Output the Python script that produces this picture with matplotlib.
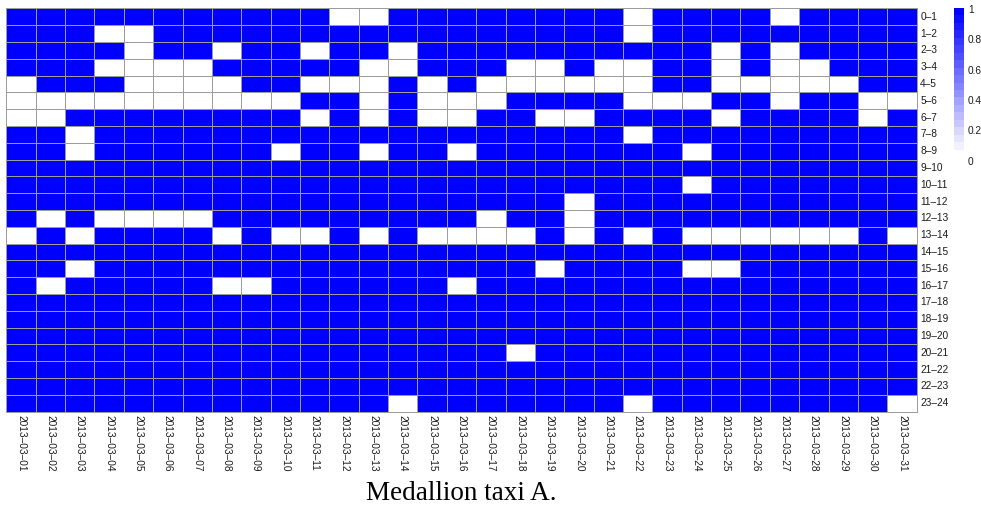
import numpy as np
import matplotlib
matplotlib.use("Agg")
import matplotlib.pyplot as plt
from matplotlib.colors import LinearSegmentedColormap

dates = ["2013–03–%02d" % d for d in range(1, 32)]
hours = ["%d–%d" % (h, h + 1) for h in range(24)]

# 1 = taxi active in that hour, 0 = not
presence = [
    "1111111111100111111110111101111",
    "1110011111111111111110111111111",
    "1111011011011011111111110101111",
    "1110000111110011100100110100111",
    "0111000011000101000000110000011",
    "0000000000110100011110001101100",
    "0011111111010100110011110111101",
    "1101111111111111111110111111111",
    "1101111110110110111111101111111",
    "1111111111111111111111111111111",
    "1111111111111111111111101111111",
    "1111111111111111111011111111111",
    "1010000111111111011011111111111",
    "0101111010010100001010100000010",
    "1111111111111111111111111111111",
    "1101111111111111110111100111111",
    "1011111001111110111111111111111",
    "1111111111111111111111111111111",
    "1111111111111111111111111111111",
    "1111111111111111111111111111111",
    "1111111111111111101111111111111",
    "1111111111111111111111111111111",
    "1111111111111111111111111111111",
    "1111111111111011111110111111110",
]
cbar_ticks = [0, 0.2, 0.4, 0.6, 0.8, 1]

grid = np.array([[int(c) for c in row] for row in presence], dtype=float)

W, H = 981, 508
fig = plt.figure(figsize=(W / 100, H / 100), dpi=100)
cmap = LinearSegmentedColormap.from_list("wb", ["#ffffff", "#0000ff"], N=100)

ax = fig.add_axes([6.3 / W, 1 - 411.7 / H, (916.7 - 6.3) / W, (411.7 - 8.3) / H])
mesh = ax.pcolormesh(grid, cmap=cmap, vmin=0, vmax=1,
                     edgecolors="#9c9c9c", linewidth=0.65)
mesh.set_clip_on(False)
ax.set_xlim(0, len(dates))
ax.set_ylim(len(hours), 0)
for s in ax.spines.values():
    s.set_visible(False)

lab_font = dict(family="Liberation Sans", size=7.3, color="#1a1a1a")
ax.set_xticks(np.arange(len(dates)) + 0.5)
ax.set_xticklabels(dates, rotation=270, va="top", ha="center", **lab_font)
ax.yaxis.tick_right()
ax.set_yticks(np.arange(len(hours)) + 0.5)
ax.set_yticklabels(hours, ha="left", va="center", **lab_font)
ax.tick_params(length=0, pad=2.5)

# colour key
cax = fig.add_axes([954 / W, 1 - 156.7 / H, 9 / W, (156.7 - 8.3) / H])
ramp = np.linspace(0, 1, 20).reshape(-1, 1)
cax.imshow(ramp, cmap=cmap, vmin=0, vmax=1, aspect="auto", origin="lower",
           extent=[0, 1, 0, 1])
cax.set_xticks([])
cax.set_yticks([])
for s in cax.spines.values():
    s.set_visible(False)
for v in cbar_ticks:
    ypix = 161.7 - v * 151.7
    fig.text(968 / W, 1 - ypix / H, "%g" % v, ha="left", va="center", **lab_font)

fig.text(ax.get_position().x0 + ax.get_position().width / 2, 8.5 / H,
         "Medallion taxi A.", ha="center", va="baseline",
         family="Liberation Serif", size=19.5, color="black")

fig.savefig("out.png", dpi=100)
